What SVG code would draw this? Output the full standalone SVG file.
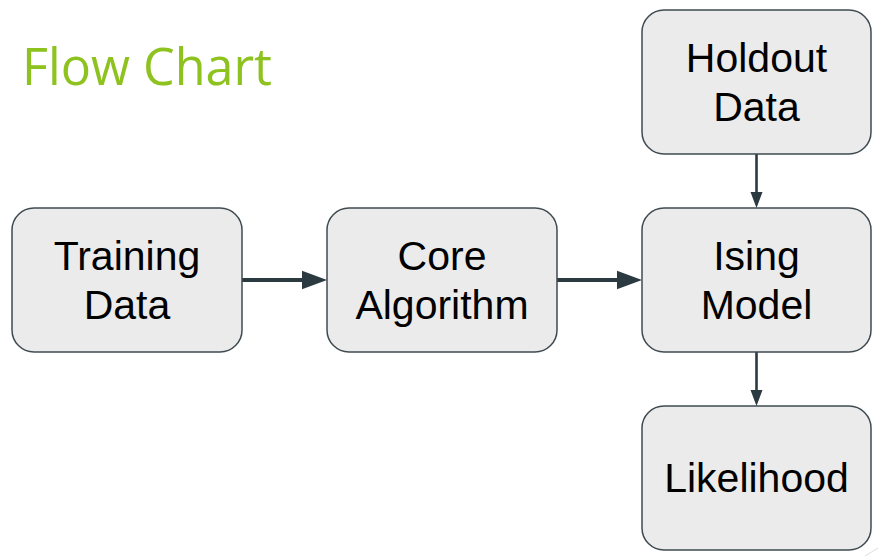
<svg xmlns="http://www.w3.org/2000/svg" width="878" height="556" viewBox="0 0 878 556">
<style>
.box{fill:#ebebeb;stroke:#3f4b51;stroke-width:1.5}
.lbl{font-family:"Liberation Sans",Arial,sans-serif;font-size:41px;fill:#000;text-anchor:middle}
.title{font-family:"Open Sans","DejaVu Sans",sans-serif;font-size:51px;fill:#8dc21f}
.thick{stroke:#2b3a40;stroke-width:4;fill:none}
.thin{stroke:#2b3a40;stroke-width:2.6;fill:none}
.head{fill:#2b3a40}
</style>
<rect width="878" height="556" fill="#ffffff"/>
<text class="title" x="22" y="85" textLength="250" lengthAdjust="spacingAndGlyphs">Flow Chart</text>
<g id="connectors">
<line class="thick" x1="242" y1="280" x2="304" y2="280"/>
<polygon class="head" points="302,270.7 327,280 302,289.3"/>
<line class="thick" x1="557" y1="280" x2="619" y2="280"/>
<polygon class="head" points="617,270.7 642,280 617,289.3"/>
<line class="thin" x1="756.5" y1="154" x2="756.5" y2="193"/>
<polygon class="head" points="750.5,192 762.5,192 756.5,208"/>
<line class="thin" x1="756.5" y1="352" x2="756.5" y2="391"/>
<polygon class="head" points="750.5,390 762.5,390 756.5,406"/>
</g>
<g id="training">
<rect class="box" x="12" y="208" width="230" height="144" rx="22"/>
<text class="lbl" x="127" y="270">Training</text>
<text class="lbl" x="127" y="319">Data</text>
</g>
<g id="core">
<rect class="box" x="327" y="208" width="230" height="144" rx="22"/>
<text class="lbl" x="442" y="270">Core</text>
<text class="lbl" x="442" y="319">Algorithm</text>
</g>
<g id="holdout">
<rect class="box" x="642" y="10" width="229" height="144" rx="22"/>
<text class="lbl" x="756.5" y="72">Holdout</text>
<text class="lbl" x="756.5" y="121">Data</text>
</g>
<g id="ising">
<rect class="box" x="642" y="208" width="229" height="144" rx="22"/>
<text class="lbl" x="756.5" y="270">Ising</text>
<text class="lbl" x="756.5" y="319">Model</text>
</g>
<g id="likelihood">
<rect class="box" x="642" y="406" width="229" height="144" rx="22"/>
<text class="lbl" x="756.5" y="492">Likelihood</text>
</g>
<line x1="865" y1="556" x2="878" y2="548" stroke="#dddddd" stroke-width="1"/>
</svg>
